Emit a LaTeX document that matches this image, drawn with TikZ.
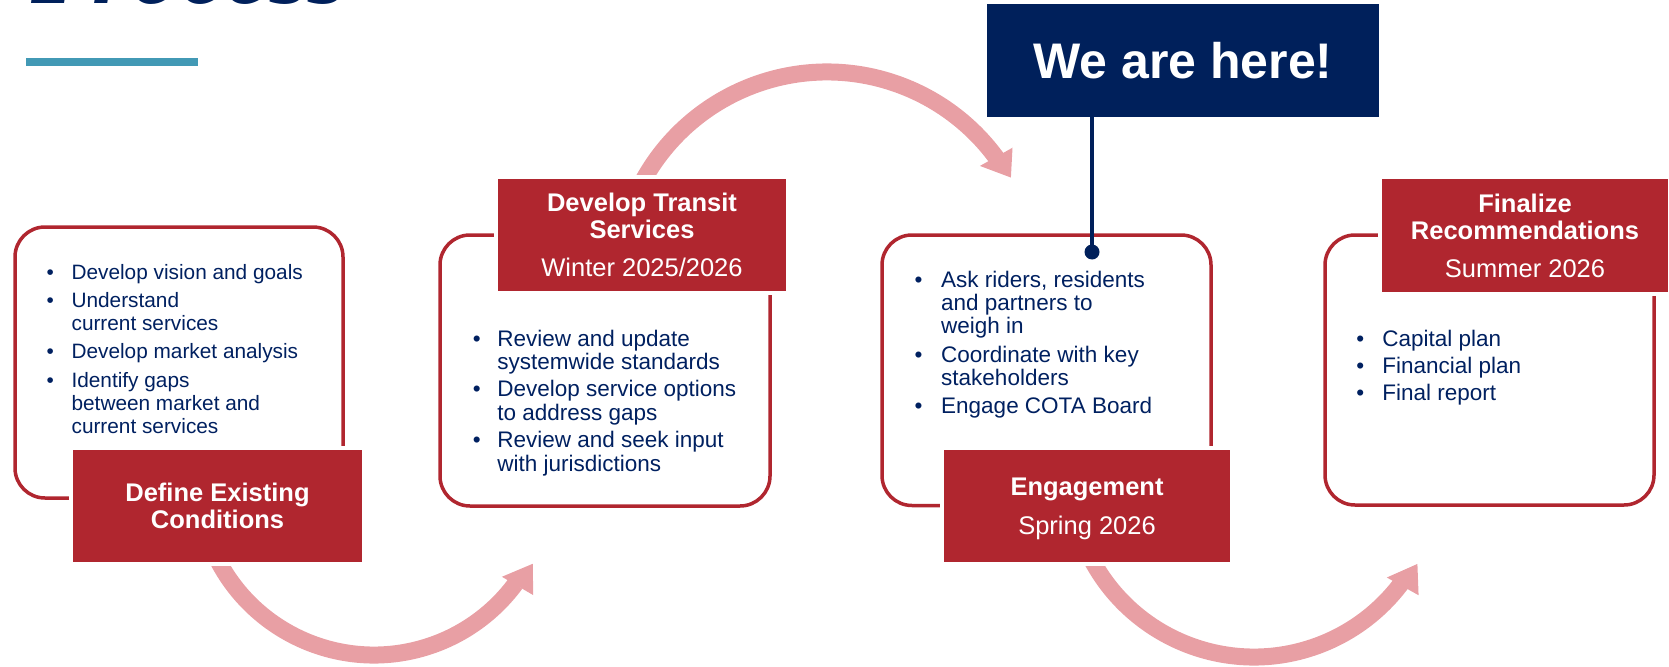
\documentclass[tikz,border=0pt]{standalone}
\usepackage{fontspec}
\setmainfont{Liberation Sans}
\newfontfamily\procfont{Liberation Serif}
\usetikzlibrary{calc}
\definecolor{cotared}{HTML}{B0262F}
\definecolor{cotanavy}{HTML}{00205B}
\definecolor{textnavy}{HTML}{002060}
\definecolor{arrowpink}{HTML}{E89FA4}
\definecolor{tealbar}{HTML}{4299B5}
\newcommand\mybul[1]{\makebox[#1][l]{\textbullet}}
\begin{document}
\begin{tikzpicture}[x=1pt,y=1pt,
  frameline/.style={draw=cotared, line width=3.5pt, rounded corners=30pt, inner sep=0pt},
  titlebox/.style={fill=cotared, draw=white, line width=4pt, text=white, align=center,
    inner sep=0pt, font=\fontsize{25.5}{27}\selectfont},
  bullettext/.style={anchor=base west, inner sep=0pt, text=textnavy},
  pinkarc/.style={arrowpink, line width=17pt}]
\useasboundingbox (0,0) rectangle (1669,-666);

% cut-off heading and teal rule
\node[anchor=base west, inner sep=0pt, text=cotanavy,
  font=\procfont\bfseries\itshape\fontsize{100}{100}\selectfont] (heading) at (31,-3.3) {Process};
\fill[tealbar] (26,-58) rectangle (198,-66);

% rounded frames
\node[frameline, minimum width=328pt, minimum height=271pt] (f1) at (179,-362.5) {};
\node[frameline, minimum width=330pt, minimum height=271pt] (f2) at (605,-370.5) {};
\node[frameline, minimum width=329pt, minimum height=270.5pt] (f3) at (1046.5,-370.25) {};
\node[frameline, minimum width=329pt, minimum height=270pt] (f4) at (1489.5,-370) {};

% curved arrows
\coordinate (c1) at (374,-479);
\draw[pinkarc] ($(c1)+(200:176)$) arc[start angle=200, end angle=323.5, radius=176pt];
\fill[arrowpink] ($(c1)+(322.6:161)$) -- ($(c1)+(331.9:180)$) -- ($(c1)+(323.9:197)$) -- cycle;

\coordinate (c2) at (827,-282);
\draw[pinkarc] ($(c2)+(157:210)$) arc[start angle=157, end angle=36, radius=210pt];
\fill[arrowpink] ($(c2)+(37.2:192)$) -- ($(c2)+(29.6:211.5)$) -- ($(c2)+(35.9:229)$) -- cycle;

\coordinate (c3) at (1254,-473);
\draw[pinkarc] ($(c3)+(200:184)$) arc[start angle=200, end angle=323, radius=184pt];
\fill[arrowpink] ($(c3)+(321.8:169)$) -- ($(c3)+(330.9:187)$) -- ($(c3)+(323.4:205)$) -- cycle;

% title boxes
\node[titlebox, minimum width=293pt, minimum height=116pt] (t1) at (217.5,-506)
  {{\bfseries Define Existing}\\{\bfseries Conditions}};
\node[titlebox, minimum width=292pt, minimum height=116pt] (t2) at (642,-235)
  {{\bfseries Develop Transit}\\{\bfseries Services}\\[11pt]Winter 2025/2026};
\node[titlebox, minimum width=290pt, minimum height=116pt] (t3) at (1087,-506)
  {\rule{0pt}{23.3pt}{\bfseries Engagement}\\[11.5pt]Spring 2026};
\node[titlebox, minimum width=290pt, minimum height=117pt] (t4) at (1525,-235.5)
  {{\bfseries Finalize}\\{\bfseries Recommendations}\\[11pt]Summer 2026};

% bullet texts
\node[bullettext] (b1) at (46.4,-279.3) {\begin{minipage}[t]{300pt}\fontsize{20.8}{23}\selectfont
\mybul{25pt}Develop vision and goals\\[5.3pt]
\mybul{25pt}Understand\\
\hspace*{25pt}current services\\[5.3pt]
\mybul{25pt}Develop market analysis\\[5.3pt]
\mybul{25pt}Identify gaps\\
\hspace*{25pt}between market and\\
\hspace*{25pt}current services
\end{minipage}};

\node[bullettext] (b2) at (472.7,-346) {\begin{minipage}[t]{300pt}\fontsize{22.5}{23.6}\selectfont
\mybul{24.5pt}Review and update\\
\hspace*{24.5pt}systemwide standards\\[3.6pt]
\mybul{24.5pt}Develop service options\\
\hspace*{24.5pt}to address gaps\\[3.6pt]
\mybul{24.5pt}Review and seek input\\
\hspace*{24.5pt}with jurisdictions
\end{minipage}};

\node[bullettext] (b3) at (914.4,-287) {\begin{minipage}[t]{300pt}\fontsize{22.5}{23.4}\selectfont
\mybul{26.6pt}Ask riders, residents\\
\hspace*{26.6pt}and partners to\\
\hspace*{26.6pt}weigh in\\[4.8pt]
\mybul{26.6pt}Coordinate with key\\
\hspace*{26.6pt}stakeholders\\[4.8pt]
\mybul{26.6pt}Engage COTA Board
\end{minipage}};

\node[bullettext] (b4) at (1356.1,-346) {\begin{minipage}[t]{300pt}\fontsize{22.5}{23.6}\selectfont
\mybul{26pt}Capital plan\\[3.6pt]
\mybul{26pt}Financial plan\\[3.6pt]
\mybul{26pt}Final report
\end{minipage}};

% we are here marker
\node[fill=cotanavy, text=white, inner sep=0pt, minimum width=392pt, minimum height=113pt,
  font=\bfseries\fontsize{50}{50}\selectfont] (here) at (1183,-60.5) {We are here!};
\node[circle, fill=cotanavy, inner sep=0pt, minimum size=15pt] (dot) at (1092,-252) {};
\draw[cotanavy, line width=3.5pt] (dot.center) -- (dot.center |- here.south);
\end{tikzpicture}
\end{document}
